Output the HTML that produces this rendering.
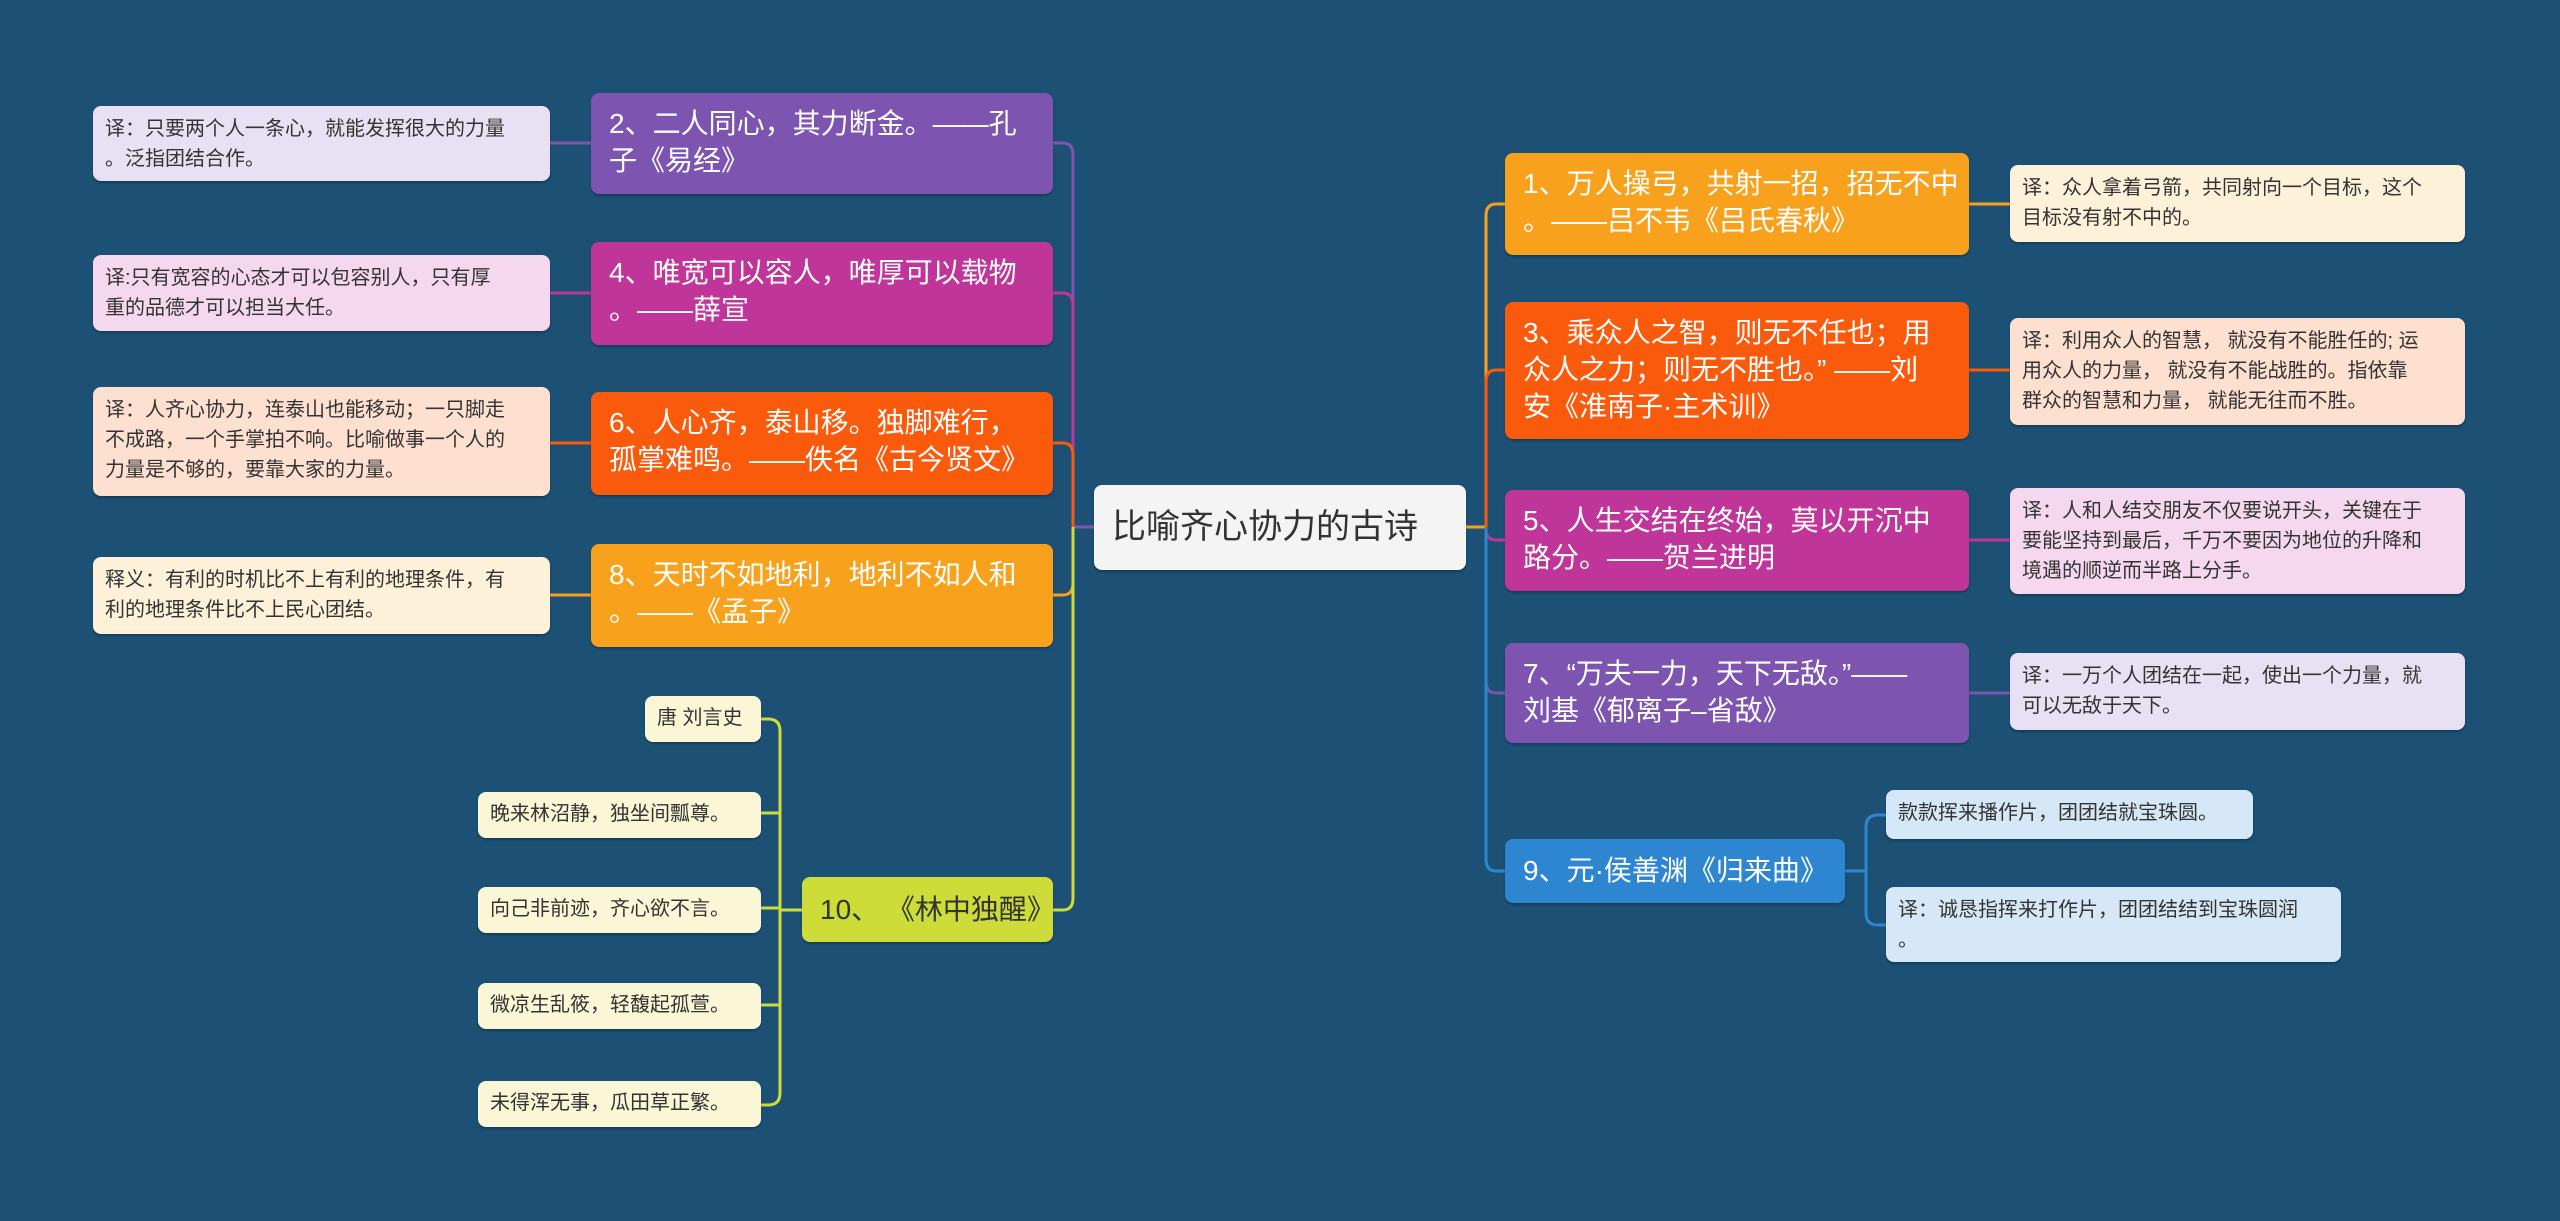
<!DOCTYPE html>
<html><head><meta charset="utf-8"><style>
body{margin:0;width:2560px;height:1221px;background:#1c5175;overflow:hidden;position:relative;font-family:"Liberation Sans","Noto Sans CJK SC",sans-serif;}
.b{position:absolute;box-sizing:border-box;border-radius:8px;color:#fff;font-size:28px;line-height:37px;padding:12px 10px 12px 18px;box-shadow:0 2px 2px rgba(0,0,0,.25);white-space:nowrap;}
.n{position:absolute;box-sizing:border-box;border-radius:8px;color:#333;font-size:20px;line-height:30px;padding:8px 12px;box-shadow:0 2px 2px rgba(0,0,0,.25);white-space:nowrap;}
svg{position:absolute;left:0;top:0}
</style></head><body>
<svg width="2560" height="1221" fill="none" stroke-width="3">
<path d="M1094 527 H1073 V155 Q1073 143 1063 143 H1053" stroke="#7d55b0"/>
<path d="M1073 527 V305 Q1073 293 1063 293 H1053" stroke="#c0359a"/>
<path d="M1073 527 V455 Q1073 443 1063 443 H1053" stroke="#f95a0c"/>
<path d="M1073 527 V583 Q1073 595 1063 595 H1053" stroke="#f8a11d"/>
<path d="M1073 527 V898 Q1073 910 1063 910 H1053" stroke="#cddc39"/>
<path d="M591 143 H550" stroke="#7d55b0"/><path d="M591 293 H550" stroke="#c0359a"/>
<path d="M591 443 H550" stroke="#f95a0c"/><path d="M591 595 H550" stroke="#f8a11d"/>
<g stroke="#cddc39"><path d="M802 910 H780"/><path d="M761 719 H768 Q780 719 780 731 V1093 Q780 1105 768 1105 H761"/>
<path d="M761 813 H780"/><path d="M761 908 H780"/><path d="M761 1005 H780"/></g>
<path d="M1466 527 H1486 V216 Q1486 204 1496 204 H1505" stroke="#f8a11d"/>
<path d="M1486 527 V382 Q1486 370 1496 370 H1505" stroke="#f95a0c"/>
<path d="M1486 527 V529 Q1486 540 1496 540 H1505" stroke="#c0359a"/>
<path d="M1486 527 V681 Q1486 693 1496 693 H1505" stroke="#7d55b0"/>
<path d="M1486 527 V859 Q1486 871 1496 871 H1505" stroke="#2e86d1"/>
<path d="M1969 204 H2010" stroke="#f8a11d"/><path d="M1969 370 H2010" stroke="#f95a0c"/>
<path d="M1969 540 H2010" stroke="#c0359a"/><path d="M1969 693 H2010" stroke="#7d55b0"/>
<g stroke="#2e86d1"><path d="M1845 871 H1866"/><path d="M1886 815 H1878 Q1866 815 1866 827 V913 Q1866 925 1878 925 H1886"/></g>
</svg>
<div class="b" style="left:1094px;top:485px;width:372px;height:85px;background:#f4f4f4;color:#333;font-size:34px;line-height:61px;">比喻齐心协力的古诗</div>

<div class="b" style="left:591px;top:93px;width:462px;height:101px;background:#7d55b0">2、二人同心，其力断金。——孔<br>子《易经》</div>
<div class="b" style="left:591px;top:242px;width:462px;height:103px;background:#c0359a">4、唯宽可以容人，唯厚可以载物<br>。——薛宣</div>
<div class="b" style="left:591px;top:392px;width:462px;height:103px;background:#f95a0c">6、人心齐，泰山移。独脚难行，<br>孤掌难鸣。——佚名《古今贤文》</div>
<div class="b" style="left:591px;top:544px;width:462px;height:103px;background:#f8a11d">8、天时不如地利，地利不如人和<br>。——《孟子》</div>
<div class="b" style="left:802px;top:877px;width:251px;height:65px;background:#cddc39;color:#333;padding-top:14px">10、 《林中独醒》</div>

<div class="n" style="left:93px;top:106px;width:457px;height:75px;background:#e8e0f3">译：只要两个人一条心，就能发挥很大的力量<br>。泛指团结合作。</div>
<div class="n" style="left:93px;top:255px;width:457px;height:76px;background:#f5d8ee">译:只有宽容的心态才可以包容别人，只有厚<br>重的品德才可以担当大任。</div>
<div class="n" style="left:93px;top:387px;width:457px;height:109px;background:#fde0d0">译：人齐心协力，连泰山也能移动；一只脚走<br>不成路，一个手掌拍不响。比喻做事一个人的<br>力量是不够的，要靠大家的力量。</div>
<div class="n" style="left:93px;top:557px;width:457px;height:77px;background:#fdf2d9">释义：有利的时机比不上有利的地理条件，有<br>利的地理条件比不上民心团结。</div>

<div class="n" style="left:645px;top:696px;width:116px;height:46px;background:#fbf7d6;padding:7px 12px">唐 刘言史</div>
<div class="n" style="left:478px;top:792px;width:283px;height:46px;background:#fbf7d6;padding:7px 12px">晚来林沼静，独坐间瓢尊。</div>
<div class="n" style="left:478px;top:887px;width:283px;height:46px;background:#fbf7d6;padding:7px 12px">向己非前迹，齐心欲不言。</div>
<div class="n" style="left:478px;top:983px;width:283px;height:46px;background:#fbf7d6;padding:7px 12px">微凉生乱筱，轻馥起孤萱。</div>
<div class="n" style="left:478px;top:1081px;width:283px;height:46px;background:#fbf7d6;padding:7px 12px">未得浑无事，瓜田草正繁。</div>

<div class="b" style="left:1505px;top:153px;width:464px;height:102px;background:#f8a11d">1、万人操弓，共射一招，招无不中<br>。——吕不韦《吕氏春秋》</div>
<div class="b" style="left:1505px;top:302px;width:464px;height:137px;background:#f95a0c">3、乘众人之智，则无不任也；用<br>众人之力；则无不胜也。” ——刘<br>安《淮南子·主术训》</div>
<div class="b" style="left:1505px;top:490px;width:464px;height:101px;background:#c0359a">5、人生交结在终始，莫以开沉中<br>路分。——贺兰进明</div>
<div class="b" style="left:1505px;top:643px;width:464px;height:100px;background:#7d55b0">7、“万夫一力，天下无敌。”——<br>刘基《郁离子–省敌》</div>
<div class="b" style="left:1505px;top:839px;width:340px;height:64px;background:#2e86d1;padding-top:13px">9、元·侯善渊《归来曲》</div>

<div class="n" style="left:2010px;top:165px;width:455px;height:77px;background:#fdf2d9">译：众人拿着弓箭，共同射向一个目标，这个<br>目标没有射不中的。</div>
<div class="n" style="left:2010px;top:318px;width:455px;height:107px;background:#fde0d0">译：利用众人的智慧， 就没有不能胜任的; 运<br>用众人的力量， 就没有不能战胜的。指依靠<br>群众的智慧和力量， 就能无往而不胜。</div>
<div class="n" style="left:2010px;top:488px;width:455px;height:106px;background:#f5d8ee">译：人和人结交朋友不仅要说开头，关键在于<br>要能坚持到最后，千万不要因为地位的升降和<br>境遇的顺逆而半路上分手。</div>
<div class="n" style="left:2010px;top:653px;width:455px;height:77px;background:#e8e0f3">译：一万个人团结在一起，使出一个力量，就<br>可以无敌于天下。</div>
<div class="n" style="left:1886px;top:790px;width:367px;height:49px;background:#d6e8f7">款款挥来播作片，团团结就宝珠圆。</div>
<div class="n" style="left:1886px;top:887px;width:455px;height:75px;background:#d6e8f7">译：诚恳指挥来打作片，团团结结到宝珠圆润<br>。</div>
</body></html>
